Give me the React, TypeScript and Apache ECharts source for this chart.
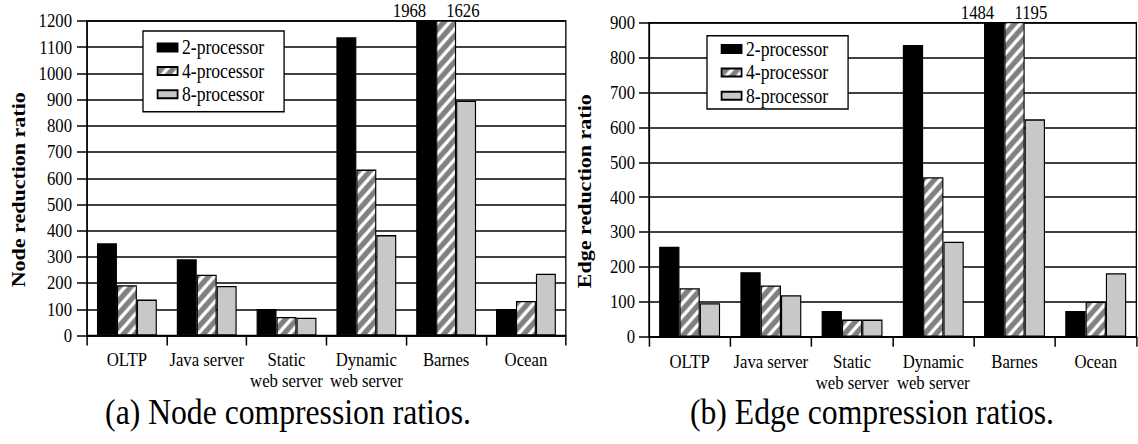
import React, { useEffect, useRef } from "react";
import * as echarts from "echarts";

// Workload categories along the x axis
const categories = [
  "OLTP",
  "Java server",
  "Static\nweb server",
  "Dynamic\nweb server",
  "Barnes",
  "Ocean",
];
const seriesNames = ["2-processor", "4-processor", "8-processor"];

// (a) node reduction ratios
const nodeTwo = [352, 291, 101, 1138, 1968, 101];
const nodeFour = [192, 232, 71, 633, 1626, 132];
const nodeEight = [137, 189, 68, 383, 896, 236];

// (b) edge reduction ratios
const edgeTwo = [258, 185, 74, 836, 1484, 74];
const edgeFour = [139, 147, 49, 457, 1195, 100];
const edgeEight = [96, 119, 49, 272, 623, 182];

const nodeAxis = { min: 0, max: 1200, interval: 100 };
const edgeAxis = { min: 0, max: 900, interval: 100 };

const captions = ["(a) Node compression ratios.", "(b) Edge compression ratios."];

const FONT = '"Liberation Serif"';

// The figure is typeset in a horizontally condensed serif face: the chart
// is laid out on a wider canvas and squeezed back to the page width.
const SQUEEZE = 0.88;
const PAGE_W = 1138;
const PAGE_H = 444;
const sx = (v: number) => v / SQUEEZE;

function makeHatch(): any {
  const size = 13;
  const c = document.createElement("canvas");
  c.width = size;
  c.height = size;
  const ctx = c.getContext("2d")!;
  ctx.fillStyle = "#808080";
  ctx.fillRect(0, 0, size, size);
  ctx.strokeStyle = "#ffffff";
  ctx.lineWidth = 3.6;
  const seg = (x1: number, y1: number, x2: number, y2: number) => {
    ctx.beginPath();
    ctx.moveTo(x1, y1);
    ctx.lineTo(x2, y2);
    ctx.stroke();
  };
  seg(-2, size + 2, size + 2, -2);
  seg(-size - 2, size + 2, size + 2, -size - 2);
  seg(-2, 2 * size + 2, 2 * size + 2, -2);
  return { image: c, repeat: "repeat", imageWidth: size, imageHeight: size };
}

export default function App() {
  const ref = useRef<HTMLDivElement>(null);

  useEffect(() => {
    if (!ref.current) return;
    const chart = echarts.init(ref.current, undefined, { renderer: "svg" });
    const hatch = makeHatch();
    const fills = ["#000000", hatch, "#c8c8c8"];

    const textBase = { fontFamily: FONT, color: "#000", fontSize: 19 };
    const NAME_SIZE = 22;

    const yAxisFor = (idx: number, name: string, range: any, gap: number, labelMargin: number) => ({
      type: "value",
      gridIndex: idx,
      ...range,
      name,
      nameLocation: "middle",
      nameGap: gap,
      nameTextStyle: {
        fontFamily: FONT,
        fontWeight: "bold",
        fontSize: NAME_SIZE,
        color: "#000",
        padding: [0, 23, 0, 0],
      },
      axisLine: { show: true, lineStyle: { color: "#000", width: 1.5 } },
      axisTick: { show: true, length: sx(10), lineStyle: { color: "#000", width: 1.5 } },
      axisLabel: { ...textBase, margin: labelMargin, formatter: (v: number) => String(v) },
      splitLine: { show: true, lineStyle: { color: "#000", width: 1.5 } },
    });

    const xAxisFor = (idx: number) => ({
      type: "category",
      gridIndex: idx,
      data: categories,
      axisLine: { show: true, lineStyle: { color: "#000", width: 1.5 } },
      axisTick: { show: true, length: 10, lineStyle: { color: "#000", width: 1.7 } },
      axisLabel: { ...textBase, margin: 14, lineHeight: 21, interval: 0 },
    });

    const buildSeries = (idx: number, sets: number[][], axisMax: number) =>
      sets.map((vals, s) => ({
        type: "bar",
        name: seriesNames[s],
        xAxisIndex: idx,
        yAxisIndex: idx,
        barGap: "0%",
        barCategoryGap: "25%",
        clip: true,
        itemStyle: { color: fills[s], borderColor: "#000", borderWidth: 1.3 },
        data: vals.map((v) =>
          v > axisMax
            ? {
                value: v,
                label: {
                  show: true,
                  position: "top",
                  distance: 0,
                  align: s === 0 ? "right" : "left",
                  ...textBase,
                  formatter: String(v),
                },
              }
            : v
        ),
      }));

    const legendFor = (left: number, top: number, padV: number[]) => ({
      orient: "vertical",
      left: sx(left),
      top,
      data: seriesNames,
      itemWidth: sx(20),
      itemHeight: 8,
      itemGap: 3.4,
      padding: [padV[0], sx(20), padV[1], sx(13.7)],
      backgroundColor: "#fff",
      borderColor: "#000",
      borderWidth: 1.5,
      borderRadius: 0,
      icon: "rect",
      textStyle: { ...textBase, fontSize: 20 },
      selectedMode: false,
    });

    chart.setOption({
      animation: false,
      backgroundColor: "#fff",
      textStyle: { fontFamily: FONT },
      grid: [
        {
          left: sx(87),
          right: sx(PAGE_W - 566),
          top: 21,
          bottom: PAGE_H - 335.5,
          show: true,
          borderColor: "#000",
          borderWidth: 1.5,
          backgroundColor: "transparent",
        },
        {
          left: sx(649),
          right: sx(1.5),
          top: 22.7,
          bottom: PAGE_H - 336.7,
          show: true,
          borderColor: "#000",
          borderWidth: 1.5,
          backgroundColor: "transparent",
        },
      ],
      legend: [legendFor(143, 31, [6.5, 7.5]), legendFor(707, 35.7, [3.3, 3.3])],
      xAxis: [xAxisFor(0), xAxisFor(1)],
      yAxis: [
        yAxisFor(0, "Node reduction ratio", nodeAxis, sx(69) - NAME_SIZE / 2, sx(15)),
        yAxisFor(1, "Edge reduction ratio", edgeAxis, sx(65) - NAME_SIZE / 2, sx(14)),
      ],
      series: [
        ...buildSeries(0, [nodeTwo, nodeFour, nodeEight], nodeAxis.max),
        ...buildSeries(1, [edgeTwo, edgeFour, edgeEight], edgeAxis.max),
      ],
      graphic: [
        {
          type: "text",
          x: sx(288),
          y: 412,
          style: { text: captions[0], font: `36px ${FONT}`, fill: "#000", align: "center", verticalAlign: "middle" },
        },
        {
          type: "text",
          x: sx(872),
          y: 412,
          style: { text: captions[1], font: `36px ${FONT}`, fill: "#000", align: "center", verticalAlign: "middle" },
        },
      ],
    });

    return () => chart.dispose();
  }, []);

  return (
    <div
      style={{
        position: "absolute",
        left: 0,
        top: 0,
        width: PAGE_W,
        height: PAGE_H,
        overflow: "hidden",
        background: "#fff",
      }}
    >
      <div
        ref={ref}
        style={{
          width: sx(PAGE_W),
          height: PAGE_H,
          transform: `scaleX(${SQUEEZE})`,
          transformOrigin: "0 0",
          fontFamily: FONT,
        }}
      />
    </div>
  );
}
